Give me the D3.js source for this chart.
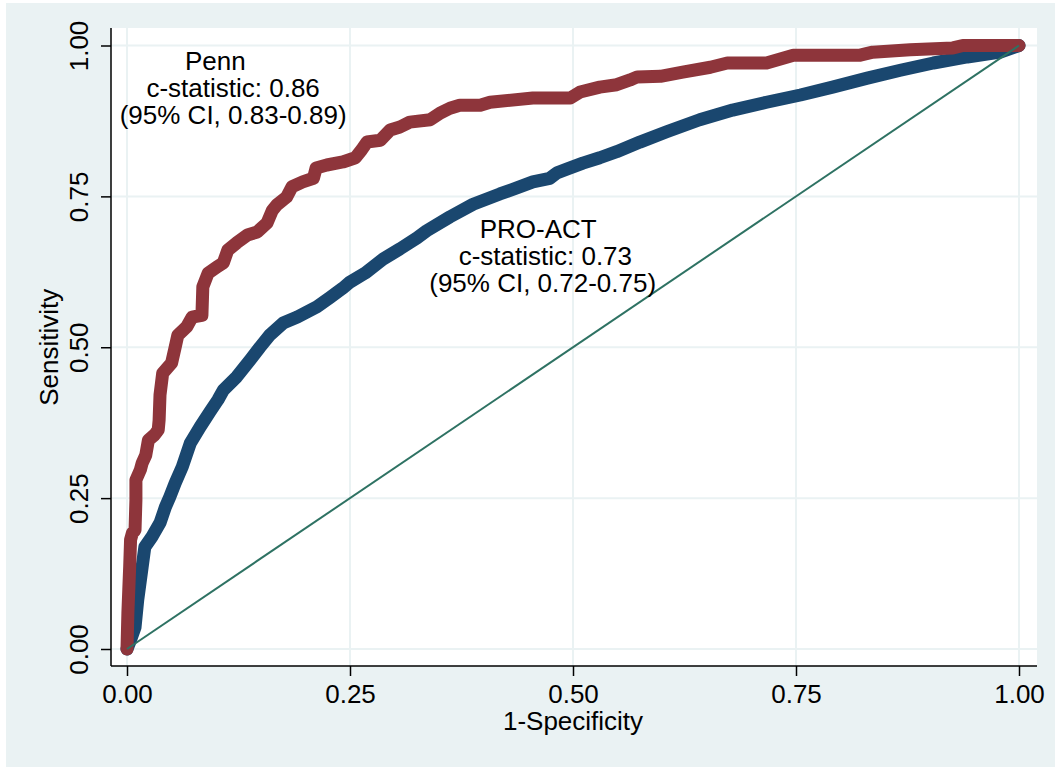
<!DOCTYPE html>
<html>
<head>
<meta charset="utf-8">
<script src="https://cdn.jsdelivr.net/npm/d3@7"></script>
<style>
  html, body { margin: 0; padding: 0; background: #ffffff; }
  svg { display: block; }
  text { font-family: "Liberation Sans", Arial, Helvetica, sans-serif; fill: #000; }
</style>
</head>
<body>
<svg id="chart" width="1055" height="767"></svg>
<script>
// ---------- data ----------
const tickValues = [0, 0.25, 0.5, 0.75, 1];
const tickLabels = ["0.00", "0.25", "0.50", "0.75", "1.00"];
const xTitle = "1-Specificity";
const yTitle = "Sensitivity";

// Penn model ROC: [1-specificity, sensitivity]
const pennFpr = [0, 0.001, 0.002, 0.003, 0.004, 0.006, 0.009, 0.010, 0.010, 0.015, 0.017, 0.021, 0.024, 0.031, 0.035, 0.036, 0.037, 0.040, 0.050, 0.054, 0.057, 0.067, 0.073, 0.084, 0.085, 0.091, 0.101, 0.108, 0.113, 0.123, 0.135, 0.146, 0.157, 0.163, 0.168, 0.179, 0.185, 0.197, 0.209, 0.212, 0.224, 0.242, 0.256, 0.263, 0.269, 0.284, 0.295, 0.306, 0.317, 0.340, 0.351, 0.362, 0.373, 0.396, 0.407, 0.455, 0.497, 0.508, 0.530, 0.549, 0.564, 0.572, 0.598, 0.623, 0.654, 0.673, 0.717, 0.747, 0.822, 0.836, 0.878, 0.926, 0.937, 1];
const pennTpr = [0, 0.060, 0.098, 0.136, 0.181, 0.192, 0.197, 0.247, 0.280, 0.297, 0.308, 0.321, 0.346, 0.355, 0.363, 0.379, 0.421, 0.457, 0.474, 0.500, 0.520, 0.534, 0.550, 0.553, 0.600, 0.623, 0.633, 0.640, 0.661, 0.673, 0.686, 0.691, 0.706, 0.727, 0.736, 0.749, 0.766, 0.774, 0.780, 0.797, 0.802, 0.807, 0.814, 0.827, 0.840, 0.843, 0.860, 0.865, 0.873, 0.877, 0.888, 0.896, 0.901, 0.901, 0.906, 0.913, 0.913, 0.923, 0.931, 0.935, 0.943, 0.948, 0.949, 0.956, 0.964, 0.971, 0.971, 0.984, 0.984, 0.989, 0.993, 0.996, 1, 1];

// PRO-ACT model ROC
const proFpr = [0, 0.004, 0.009, 0.012, 0.017, 0.020, 0.028, 0.037, 0.043, 0.048, 0.054, 0.062, 0.071, 0.082, 0.093, 0.102, 0.108, 0.123, 0.138, 0.149, 0.160, 0.175, 0.191, 0.213, 0.228, 0.242, 0.250, 0.267, 0.287, 0.306, 0.325, 0.336, 0.362, 0.388, 0.418, 0.437, 0.455, 0.474, 0.482, 0.493, 0.511, 0.530, 0.549, 0.575, 0.605, 0.642, 0.679, 0.717, 0.755, 0.791, 0.830, 0.867, 0.904, 0.942, 0.979, 1];
const proTpr = [0, 0.015, 0.036, 0.081, 0.136, 0.169, 0.186, 0.209, 0.235, 0.252, 0.275, 0.302, 0.341, 0.368, 0.393, 0.413, 0.429, 0.451, 0.479, 0.500, 0.520, 0.540, 0.550, 0.567, 0.583, 0.598, 0.608, 0.623, 0.646, 0.663, 0.681, 0.693, 0.716, 0.737, 0.754, 0.764, 0.774, 0.780, 0.789, 0.795, 0.805, 0.814, 0.824, 0.840, 0.857, 0.877, 0.893, 0.906, 0.918, 0.931, 0.946, 0.959, 0.971, 0.981, 0.989, 1];

const refLine = [[0, 0], [1, 1]];

// annotations: [x, y(data), text]
const pennLabels = ["Penn", "c-statistic: 0.86", "(95% CI, 0.83-0.89)"];
const pennLabelX = [0.099, 0.119, 0.119];
const pennLabelY = [0.959, 0.914, 0.870];
const proLabels = ["PRO-ACT", "c-statistic: 0.73", "(95% CI, 0.72-0.75)"];
const proLabelX = [0.461, 0.469, 0.466];
const proLabelY = [0.681, 0.637, 0.592];

// ---------- layout ----------
const svg = d3.select("#chart");
const W = 1055, H = 767;
const plot = { left: 111, right: 1037, top: 28, bottom: 666 };
const x = d3.scaleLinear().domain([0, 1]).range([127, 1019]);
const y = d3.scaleLinear().domain([0, 1]).range([649, 45.5]);
const FS = 26;

// outer background
svg.append("rect").attr("x", 0).attr("y", 0).attr("width", W).attr("height", H).attr("fill", "#ffffff");
svg.append("rect").attr("x", 6).attr("y", 3).attr("width", W - 6).attr("height", H - 3).attr("fill", "#eaf2f3");
// plot region
svg.append("rect").attr("x", plot.left).attr("y", plot.top)
  .attr("width", plot.right - plot.left).attr("height", plot.bottom - plot.top).attr("fill", "#ffffff");

// gridlines
const grid = svg.append("g");
grid.selectAll("line.h").data(tickValues).enter().append("line")
  .attr("x1", plot.left).attr("x2", plot.right)
  .attr("y1", d => y(d)).attr("y2", d => y(d))
  .attr("stroke", "#eaf2f3").attr("stroke-width", 2);
grid.selectAll("line.v").data(tickValues).enter().append("line")
  .attr("y1", plot.top).attr("y2", plot.bottom)
  .attr("x1", d => x(d)).attr("x2", d => x(d))
  .attr("stroke", "#eaf2f3").attr("stroke-width", 2);

// curves
const line = d3.line().x(d => x(d[0])).y(d => y(d[1]));
const proPts = proFpr.map((v, i) => [v, proTpr[i]]);
const pennPts = pennFpr.map((v, i) => [v, pennTpr[i]]);

svg.append("path").datum(proPts).attr("d", line)
  .attr("fill", "none").attr("stroke", "#1a476f").attr("stroke-width", 13)
  .attr("stroke-linejoin", "round").attr("stroke-linecap", "round");
svg.append("path").datum(pennPts).attr("d", line)
  .attr("fill", "none").attr("stroke", "#8e353b").attr("stroke-width", 13)
  .attr("stroke-linejoin", "round").attr("stroke-linecap", "round");
svg.append("path").datum(refLine).attr("d", line)
  .attr("fill", "none").attr("stroke", "#2e7263").attr("stroke-width", 2);

// axes
const xAxis = d3.axisBottom(x).tickValues(tickValues).tickFormat((d, i) => tickLabels[i]).tickSize(10).tickSizeOuter(0);
const gx = svg.append("g").attr("transform", `translate(0,${plot.bottom})`).call(xAxis);
gx.select(".domain").attr("d", `M${plot.left},0H${plot.right}`).attr("stroke", "#000").attr("stroke-width", 1.5);
gx.selectAll(".tick line").attr("stroke", "#000").attr("stroke-width", 1.5);
gx.selectAll(".tick text").attr("font-size", FS).attr("font-family", null).attr("fill", "#000")
  .attr("dy", null).attr("y", 37);

const yAxis = d3.axisLeft(y).tickValues(tickValues).tickFormat((d, i) => tickLabels[i]).tickSize(10).tickSizeOuter(0);
const gy = svg.append("g").attr("transform", `translate(${plot.left},0)`).call(yAxis);
gy.select(".domain").attr("d", `M0,${plot.top}V${plot.bottom}`).attr("stroke", "#000").attr("stroke-width", 1.5);
gy.selectAll(".tick line").attr("stroke", "#000").attr("stroke-width", 1.5);
gy.selectAll(".tick text").attr("font-size", FS).attr("font-family", null).attr("fill", "#000")
  .attr("x", null).attr("dy", null)
  .attr("text-anchor", "middle")
  .attr("transform", "translate(-23,0) rotate(-90)");

// axis titles
svg.append("text").attr("x", x(0.5)).attr("y", 730).attr("text-anchor", "middle")
  .attr("font-size", FS).text(xTitle);
svg.append("text").attr("transform", `translate(58,${y(0.5)}) rotate(-90)`).attr("text-anchor", "middle")
  .attr("font-size", FS).text(yTitle);

// annotations
svg.append("g").selectAll("text").data(pennLabels).enter().append("text")
  .attr("x", (d, i) => x(pennLabelX[i])).attr("y", (d, i) => y(pennLabelY[i]))
  .attr("text-anchor", "middle").attr("font-size", FS).text(d => d);
svg.append("g").selectAll("text").data(proLabels).enter().append("text")
  .attr("x", (d, i) => x(proLabelX[i])).attr("y", (d, i) => y(proLabelY[i]))
  .attr("text-anchor", "middle").attr("font-size", FS).text(d => d);
</script>
</body>
</html>
